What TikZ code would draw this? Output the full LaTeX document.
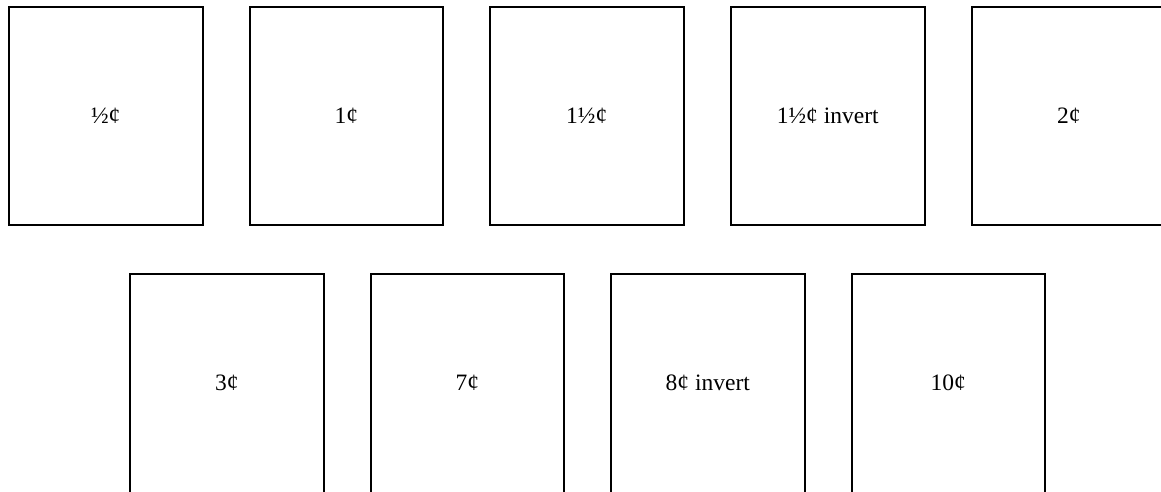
\documentclass[tikz,border=0pt]{standalone}
\usepackage{fontspec}
\setmainfont{Liberation Serif}
\begin{document}
\begin{tikzpicture}[x=1pt,y=1pt,
  card/.style={draw=black, line width=2pt, minimum width=193.5pt, minimum height=218.5pt, inner sep=0pt, anchor=north west, font=\fontsize{23.5}{27}\selectfont}]
\useasboundingbox (0,0) rectangle (1161,-491);
\clip (0,0) rectangle (1161,-491);
\node[card] (a) at (8,-5.5) {½¢};
\node[card] (b) at (248.5,-5.5) {1¢};
\node[card] (c) at (489,-5.5) {1½¢};
\node[card] (d) at (730,-5.5) {1½¢ invert};
\node[card] (e) at (971,-5.5) {2¢};
\node[card] (f) at (129,-273) {3¢};
\node[card] (g) at (369.5,-273) {7¢};
\node[card] (h) at (610,-273) {8¢ invert};
\node[card] (i) at (850.5,-273) {10¢};
\end{tikzpicture}
\end{document}
